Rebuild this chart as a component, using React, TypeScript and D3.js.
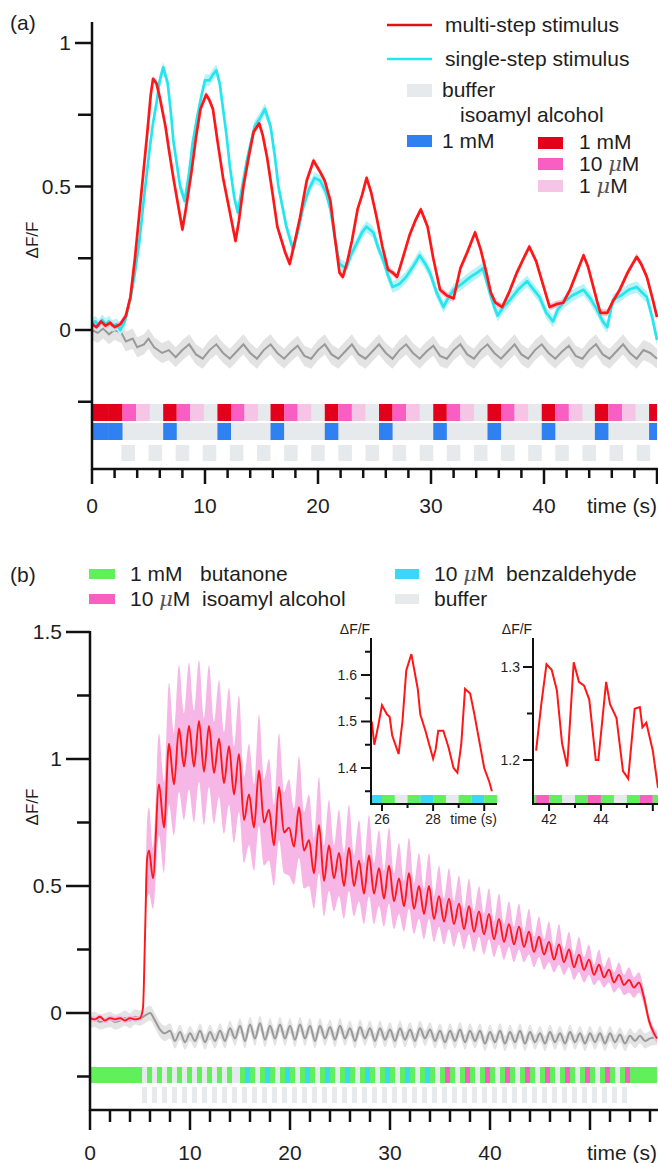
import React from "react";
import * as d3 from "d3";

const FONT = "'Liberation Sans', Arial, Helvetica, sans-serif";

// ---------- panel (a) : isoamyl alcohol, multi-step vs single-step ----------
// [time (s), dF/F]
const multiStepA: [number, number][] = [
  [0, 0.02], [0.4, 0.01], [0.8, 0.03], [1.2, 0.015], [1.6, 0.025], [2.0, 0.01], [2.5, 0.02], [3.0, 0.05],
  [3.4, 0.115], [3.8, 0.25], [4.2, 0.41], [4.6, 0.57], [4.9, 0.69], [5.2, 0.82], [5.4, 0.875], [5.7, 0.86],
  [6.0, 0.81], [6.5, 0.71], [6.8, 0.63], [7.2, 0.53], [7.6, 0.44], [8.0, 0.35], [8.3, 0.42], [8.8, 0.55],
  [9.2, 0.67], [9.6, 0.77], [10.1, 0.82], [10.4, 0.8], [10.7, 0.77], [11.1, 0.66], [11.6, 0.53], [12.2, 0.41],
  [12.7, 0.31], [13.0, 0.38], [13.4, 0.5], [13.9, 0.61], [14.3, 0.69], [14.8, 0.72], [15.1, 0.68], [15.5, 0.6],
  [16.0, 0.47], [16.4, 0.36], [17.1, 0.27], [17.5, 0.23], [17.9, 0.3], [18.4, 0.39], [19.0, 0.52], [19.6, 0.59],
  [20.2, 0.55], [20.6, 0.52], [21.1, 0.45], [21.5, 0.32], [21.9, 0.2], [22.2, 0.185], [22.6, 0.24], [23.0, 0.31],
  [23.5, 0.42], [23.9, 0.47], [24.3, 0.53], [24.7, 0.48], [25.2, 0.39], [25.7, 0.29], [26.2, 0.21], [26.6, 0.2],
  [27.0, 0.185], [27.5, 0.25], [28.1, 0.33], [28.6, 0.38], [29.1, 0.42], [29.7, 0.36], [30.2, 0.25], [30.8, 0.14],
  [31.4, 0.12], [32.0, 0.11], [32.6, 0.215], [33.2, 0.27], [33.9, 0.34], [34.4, 0.28], [34.9, 0.2], [35.3, 0.13],
  [35.7, 0.095], [36.3, 0.08], [36.9, 0.13], [37.6, 0.2], [38.2, 0.25], [38.7, 0.29], [39.3, 0.24], [39.9, 0.16],
  [40.5, 0.08], [41.1, 0.09], [41.7, 0.095], [42.3, 0.14], [42.9, 0.2], [43.5, 0.26], [43.9, 0.22], [44.3, 0.16],
  [44.7, 0.1], [45.0, 0.06], [45.6, 0.06], [46.1, 0.1], [46.7, 0.14], [47.4, 0.2], [48.2, 0.255], [48.6, 0.23],
  [49.1, 0.185], [49.6, 0.11], [50.0, 0.045],
];
const singleStepA: [number, number][] = [
  [0, 0.02], [0.3, 0.03], [0.6, 0.015], [0.9, 0.035], [1.2, 0.02], [1.5, 0.03], [1.8, 0.015], [2.2, 0.02],
  [2.5, 0.0], [2.9, 0.03], [3.4, 0.11], [3.8, 0.2], [4.2, 0.31], [4.6, 0.46], [5.1, 0.63], [5.4, 0.72],
  [5.7, 0.79], [6.0, 0.87], [6.3, 0.915], [6.7, 0.86], [7.0, 0.75], [7.2, 0.66], [7.5, 0.58], [7.8, 0.5],
  [8.2, 0.45], [8.6, 0.55], [8.9, 0.65], [9.3, 0.74], [9.6, 0.8], [10.0, 0.87], [10.4, 0.87], [10.7, 0.89],
  [11.0, 0.905], [11.3, 0.86], [11.5, 0.8], [11.9, 0.68], [12.2, 0.57], [12.6, 0.46], [12.9, 0.41], [13.3, 0.5],
  [13.7, 0.59], [14.1, 0.66], [14.4, 0.71], [14.9, 0.74], [15.3, 0.77], [15.8, 0.71], [16.2, 0.6], [16.5, 0.5],
  [16.9, 0.42], [17.2, 0.36], [17.8, 0.28], [18.2, 0.34], [18.7, 0.43], [19.2, 0.49], [19.7, 0.53], [20.2, 0.52],
  [20.7, 0.48], [21.1, 0.42], [21.5, 0.32], [21.9, 0.23], [22.5, 0.215], [22.9, 0.26], [23.4, 0.3], [23.9, 0.34],
  [24.3, 0.36], [24.9, 0.34], [25.3, 0.29], [25.8, 0.24], [26.2, 0.19], [26.6, 0.15], [27.2, 0.16], [27.8, 0.185],
  [28.4, 0.22], [29.0, 0.26], [29.5, 0.23], [29.9, 0.2], [30.5, 0.13], [31.1, 0.08], [31.5, 0.11], [32.0, 0.14],
  [32.7, 0.16], [33.5, 0.185], [34.1, 0.2], [34.6, 0.215], [35.2, 0.13], [35.6, 0.08], [35.9, 0.05], [36.4, 0.08],
  [37.0, 0.105], [37.7, 0.14], [38.5, 0.17], [39.1, 0.14], [39.6, 0.115], [40.2, 0.06], [40.8, 0.03], [41.2, 0.07],
  [41.7, 0.095], [42.5, 0.12], [43.5, 0.14], [44.1, 0.11], [44.7, 0.07], [45.2, 0.03], [45.6, 0.01], [46.1, 0.105],
  [46.8, 0.12], [47.5, 0.14], [48.2, 0.15], [48.7, 0.13], [49.1, 0.115], [49.6, 0.04], [50.0, -0.035],
];
const bufferA: [number, number][] = [
  [0, 0.0], [0.5, -0.01], [1.0, 0.005], [1.5, -0.015], [2.0, 0.0], [2.6, -0.01], [3.0, -0.04], [3.6, -0.03],
  [4.0, -0.06], [4.6, -0.05], [5.0, -0.03], [5.5, -0.06], [6.2, -0.08], [6.8, -0.07], [7.4, -0.095], [8.0, -0.07],
  [8.6, -0.05], [9.2, -0.085], [9.8, -0.1], [10.4, -0.07], [11.0, -0.05], [11.6, -0.08], [12.2, -0.1], [12.8, -0.075],
  [13.4, -0.05], [14.0, -0.08], [14.6, -0.1], [15.2, -0.07], [15.8, -0.05], [16.4, -0.08], [17.0, -0.1], [17.6, -0.075],
  [18.2, -0.055], [18.8, -0.09], [19.4, -0.1], [20.0, -0.07], [20.6, -0.05], [21.2, -0.085], [21.8, -0.1], [22.4, -0.075],
  [23.0, -0.05], [23.6, -0.085], [24.2, -0.1], [24.8, -0.075], [25.4, -0.05], [26.0, -0.08], [26.6, -0.1], [27.2, -0.07],
  [27.8, -0.05], [28.4, -0.08], [29.0, -0.1], [29.6, -0.075], [30.2, -0.055], [30.8, -0.09], [31.4, -0.1], [32.0, -0.07],
  [32.6, -0.05], [33.2, -0.085], [33.8, -0.1], [34.4, -0.07], [35.0, -0.05], [35.6, -0.08], [36.2, -0.1], [36.8, -0.075],
  [37.4, -0.05], [38.0, -0.085], [38.6, -0.1], [39.2, -0.07], [39.8, -0.05], [40.4, -0.08], [41.0, -0.1], [41.6, -0.075],
  [42.2, -0.055], [42.8, -0.09], [43.4, -0.1], [44.0, -0.07], [44.6, -0.05], [45.2, -0.085], [45.8, -0.1], [46.4, -0.075],
  [47.0, -0.05], [47.6, -0.08], [48.2, -0.1], [48.8, -0.07], [49.4, -0.08], [50.0, -0.1],
];
const semMultiA = 0.012;
const semSingleA = 0.02;
const semBufferA = 0.035;

// stimulus timing (s): onset of each 1 mM -> 10 uM -> 1 uM -> buffer cycle
const cycleOnsetsA = [1.5, 6.3, 11.1, 15.8, 20.6, 25.4, 30.2, 35.0, 39.8, 44.5, 49.3];
const stepDurA = 1.2;
const bufferPulsesA = [2.6, 5.0, 7.4, 9.8, 12.2, 14.6, 17.0, 19.4, 21.8, 24.2, 26.6, 29.0, 31.4, 33.8, 36.2, 38.6, 41.0, 43.4, 45.8, 48.2];
const bufferDurA = 1.2;

const xLabelsA = [0, 10, 20, 30, 40];
const yMajorA = [0, 0.5, 1];
const yMinorA = [-0.25, 0.25, 0.75];

// ---------- panel (b) : butanone background + pulses ----------
// [time (s), mean dF/F, sem]
const redB: [number, number, number][] = [
  [0, -0.02, 0.01], [0.5, -0.025, 0.01], [1, -0.015, 0.01], [1.5, -0.03, 0.01], [2, -0.02, 0.01], [2.5, -0.025, 0.01],
  [3, -0.02, 0.01], [3.5, -0.03, 0.01], [4, -0.02, 0.01], [4.5, -0.025, 0.01], [5, -0.02, 0.01], [5.3, 0.02, 0.02],
  [5.5, 0.3, 0.08], [5.7, 0.6, 0.15], [5.9, 0.64, 0.17], [6.3, 0.53, 0.12], [6.9, 0.9, 0.2], [7.4, 0.73, 0.18],
  [7.9, 1.06, 0.24], [8.4, 0.9, 0.2], [8.9, 1.12, 0.25], [9.4, 0.97, 0.21], [9.9, 1.13, 0.25], [10.4, 0.97, 0.22],
  [10.9, 1.15, 0.24], [11.4, 0.95, 0.21], [11.9, 1.13, 0.24], [12.4, 0.945, 0.2], [12.9, 1.08, 0.23], [13.4, 0.905, 0.2],
  [13.9, 1.05, 0.23], [14.4, 0.86, 0.19], [14.9, 1.02, 0.23], [15.4, 0.76, 0.17], [15.9, 0.86, 0.2], [16.4, 0.73, 0.17],
  [16.9, 0.955, 0.22], [17.4, 0.75, 0.17], [17.9, 0.8, 0.2], [18.4, 0.66, 0.16], [18.9, 0.89, 0.21], [19.4, 0.71, 0.16],
  [19.9, 0.73, 0.19], [20.4, 0.655, 0.15], [20.9, 0.81, 0.2], [21.4, 0.64, 0.15], [21.9, 0.68, 0.18], [22.4, 0.55, 0.14],
  [22.9, 0.74, 0.19], [23.4, 0.52, 0.14], [23.9, 0.66, 0.18], [24.4, 0.53, 0.13], [24.9, 0.63, 0.17], [25.4, 0.5, 0.13],
  [25.9, 0.65, 0.17], [26.4, 0.5, 0.12], [26.9, 0.6, 0.16], [27.4, 0.47, 0.12], [27.9, 0.62, 0.16], [28.4, 0.47, 0.12],
  [28.9, 0.57, 0.15], [29.4, 0.45, 0.11], [29.9, 0.58, 0.15], [30.4, 0.44, 0.11], [30.9, 0.53, 0.14], [31.4, 0.42, 0.1],
  [31.9, 0.55, 0.14], [32.4, 0.41, 0.1], [32.9, 0.5, 0.13], [33.4, 0.39, 0.1], [33.9, 0.5, 0.13], [34.4, 0.37, 0.09],
  [34.9, 0.46, 0.12], [35.4, 0.36, 0.09], [35.9, 0.45, 0.12], [36.4, 0.35, 0.09], [36.9, 0.43, 0.11], [37.4, 0.33, 0.08],
  [37.9, 0.42, 0.11], [38.4, 0.32, 0.08], [38.9, 0.4, 0.1], [39.4, 0.31, 0.08], [39.9, 0.39, 0.1], [40.4, 0.29, 0.07],
  [40.9, 0.37, 0.1], [41.4, 0.28, 0.07], [41.9, 0.35, 0.09], [42.4, 0.27, 0.07], [42.9, 0.34, 0.09], [43.4, 0.26, 0.06],
  [43.9, 0.32, 0.09], [44.4, 0.24, 0.06], [44.9, 0.3, 0.08], [45.4, 0.23, 0.06], [45.9, 0.28, 0.08], [46.4, 0.21, 0.05],
  [46.9, 0.27, 0.08], [47.4, 0.2, 0.05], [47.9, 0.25, 0.07], [48.4, 0.18, 0.05], [48.9, 0.23, 0.07], [49.4, 0.17, 0.05],
  [49.9, 0.21, 0.06], [50.4, 0.15, 0.04], [50.9, 0.19, 0.06], [51.4, 0.14, 0.04], [51.9, 0.17, 0.05], [52.4, 0.12, 0.04],
  [52.9, 0.15, 0.05], [53.4, 0.11, 0.04], [53.9, 0.13, 0.05], [54.4, 0.1, 0.04], [54.9, 0.12, 0.04], [55.4, 0.06, 0.03],
  [55.9, -0.03, 0.02], [56.4, -0.08, 0.02], [56.7, -0.1, 0.02],
];
const bufferB: [number, number][] = [
  [0, -0.03], [0.5, -0.025], [1, -0.035], [1.5, -0.03], [2, -0.025], [2.5, -0.035], [3, -0.03], [3.5, -0.02],
  [4, -0.03], [4.5, -0.015], [5, -0.02], [5.5, -0.01], [6, 0.0], [6.5, -0.03], [7, -0.065], [7.5, -0.08],
  [8, -0.07], [8.5, -0.11], [9, -0.075], [9.5, -0.115], [10, -0.08], [10.5, -0.11], [11, -0.07], [11.5, -0.115],
  [12, -0.075], [12.5, -0.11], [13, -0.07], [13.5, -0.11], [14, -0.06], [14.5, -0.1], [15, -0.05], [15.5, -0.11],
  [16, -0.045], [16.5, -0.1], [17, -0.04], [17.5, -0.105], [18, -0.05], [18.5, -0.1], [19, -0.045], [19.5, -0.1],
  [20, -0.05], [20.5, -0.105], [21, -0.045], [21.5, -0.1], [22, -0.05], [22.5, -0.11], [23, -0.05], [23.5, -0.1],
  [24, -0.055], [24.5, -0.105], [25, -0.05], [25.5, -0.1], [26, -0.06], [26.5, -0.11], [27, -0.055], [27.5, -0.1],
  [28, -0.06], [28.5, -0.11], [29, -0.06], [29.5, -0.105], [30, -0.065], [30.5, -0.11], [31, -0.06], [31.5, -0.105],
  [32, -0.065], [32.5, -0.11], [33, -0.06], [33.5, -0.1], [34, -0.065], [34.5, -0.11], [35, -0.07], [35.5, -0.115],
  [36, -0.07], [36.5, -0.11], [37, -0.065], [37.5, -0.115], [38, -0.07], [38.5, -0.11], [39, -0.07], [39.5, -0.12],
  [40, -0.075], [40.5, -0.115], [41, -0.07], [41.5, -0.12], [42, -0.075], [42.5, -0.115], [43, -0.07], [43.5, -0.12],
  [44, -0.075], [44.5, -0.115], [45, -0.08], [45.5, -0.12], [46, -0.075], [46.5, -0.115], [47, -0.08], [47.5, -0.12],
  [48, -0.075], [48.5, -0.115], [49, -0.08], [49.5, -0.12], [50, -0.08], [50.5, -0.115], [51, -0.08], [51.5, -0.12],
  [52, -0.08], [52.5, -0.115], [53, -0.085], [53.5, -0.12], [54, -0.09], [54.5, -0.11], [55, -0.09], [55.5, -0.11],
  [56, -0.1], [56.7, -0.095],
];
const semBufferB = 0.03;

// stimulus timing (s)
const butanoneOnlyB: [number, number] = [0, 5.2];
const butanonePulsesB = [5.7, 6.7, 7.7, 8.7, 9.7, 10.7, 11.7, 12.7, 13.7];
const benzCyclesB = [15, 17, 19, 21, 23, 25, 27, 29, 31, 33];
const isoCyclesB = [35, 37, 39, 41, 43, 45, 47, 49, 51, 53];
const pulseDurB = 0.5;
const bufferPulsesB = [
  5.2, 6.2, 7.2, 8.2, 9.2, 10.2, 11.2, 12.2, 13.2, 14.2, 15.2, 16.2, 17.2, 18.2, 19.2, 20.2, 21.2,
  22.2, 23.2, 24.2, 25.2, 26.2, 27.2, 28.2, 29.2, 30.2, 31.2, 32.2, 33.2, 34.2, 35.2, 36.2, 37.2, 38.2,
  39.2, 40.2, 41.2, 42.2, 43.2, 44.2, 45.2, 46.2, 47.2, 48.2, 49.2, 50.2, 51.2, 52.2, 53.2,
];

const xLabelsB = [0, 10, 20, 30, 40];
const yMajorB = [0, 0.5, 1, 1.5];
const yMinorB = [-0.25, 0.25, 0.75, 1.25];

// insets (single traces)
const inset1: [number, number][] = [
  [25.6, 1.5], [25.7, 1.45], [25.85, 1.49], [26.0, 1.535], [26.2, 1.515], [26.3, 1.51], [26.4, 1.47], [26.65, 1.43],
  [26.8, 1.5], [26.95, 1.61], [27.15, 1.645], [27.3, 1.6], [27.4, 1.57], [27.5, 1.515], [27.7, 1.48], [27.85, 1.45],
  [28.0, 1.42], [28.1, 1.44], [28.2, 1.48], [28.4, 1.48], [28.6, 1.445], [28.8, 1.4], [28.95, 1.39], [29.1, 1.45],
  [29.25, 1.57], [29.45, 1.56], [29.6, 1.52], [29.75, 1.475], [30.0, 1.4], [30.2, 1.37], [30.3, 1.35],
];
const inset2: [number, number][] = [
  [41.5, 1.21], [41.7, 1.26], [41.9, 1.303], [42.1, 1.297], [42.3, 1.275], [42.5, 1.218], [42.7, 1.193], [42.95, 1.305],
  [43.15, 1.284], [43.35, 1.28], [43.55, 1.265], [43.8, 1.2], [43.9, 1.2], [44.2, 1.284], [44.35, 1.26], [44.6, 1.245],
  [44.85, 1.188], [45.05, 1.18], [45.3, 1.255], [45.5, 1.257], [45.6, 1.235], [45.75, 1.24], [46.0, 1.21], [46.2, 1.17],
];

const C = {
  red: "#ff1616",
  cyan: "#25e6ef",
  grey: "#999999",
  red1mM: "#e2001b",
  pink10: "#f95fc2",
  pink1: "#f6c5e6",
  blue: "#2f80f0",
  buffer: "#e7eaec",
  green: "#5ff05c",
  benz: "#3ad8f6",
  band: "#f7b7e6",
  text: "#1e1e1e",
};

type Seg = { t0: number; t1: number; color: string };

function SegRow({ segs, x, y, h, tMin, tMax }: { segs: Seg[]; x: d3.ScaleLinear<number, number>; y: number; h: number; tMin: number; tMax: number }) {
  return (
    <g>
      {segs.map((s, i) => {
        const a = Math.max(s.t0, tMin);
        const b = Math.min(s.t1, tMax);
        if (b <= a) return null;
        return <rect key={i} x={x(a)} y={y} width={x(b) - x(a)} height={h} fill={s.color} />;
      })}
    </g>
  );
}

function Mu() {
  return <tspan fontStyle="italic" fontFamily="'DejaVu Serif', serif" fill="#555">μ</tspan>;
}

export default function App() {
  const xA = d3.scaleLinear().domain([0, 50]).range([92, 657]);
  const yA = d3.scaleLinear().domain([0, 1]).range([330, 43]);
  const xB = d3.scaleLinear().domain([0, 56.7]).range([90, 657]);
  const yB = d3.scaleLinear().domain([0, 1.5]).range([1013, 632]);
  const xI1 = d3.scaleLinear().domain([25.57, 30.5]).range([371, 497]);
  const yI1 = d3.scaleLinear().domain([1.4, 1.6]).range([768, 675]);
  const xI2 = d3.scaleLinear().domain([41.38, 46.2]).range([533, 658]);
  const yI2 = d3.scaleLinear().domain([1.2, 1.3]).range([760, 667]);

  const lineA = d3.line<[number, number]>().x((d) => xA(d[0])).y((d) => yA(d[1]));
  const bandA = (sem: number) =>
    d3.area<[number, number]>().x((d) => xA(d[0])).y0((d) => yA(d[1] - sem)).y1((d) => yA(d[1] + sem));

  const lineB = d3.line<[number, number, number]>().x((d) => xB(d[0])).y((d) => yB(d[1])).curve(d3.curveMonotoneX);
  const bandB = d3
    .area<[number, number, number]>()
    .x((d) => xB(d[0]))
    .y0((d) => yB(d[1] - d[2]))
    .y1((d) => yB(d[1] + d[2]))
    .curve(d3.curveMonotoneX);
  const lineBufB = d3.line<[number, number]>().x((d) => xB(d[0])).y((d) => yB(d[1])).curve(d3.curveMonotoneX);
  const bandBufB = d3
    .area<[number, number]>()
    .x((d) => xB(d[0]))
    .y0((d) => yB(d[1] - semBufferB))
    .y1((d) => yB(d[1] + semBufferB))
    .curve(d3.curveMonotoneX);

  // stimulus rows (a)
  const rowA1: Seg[] = [{ t0: 0, t1: 50, color: C.buffer }, { t0: 0, t1: cycleOnsetsA[0], color: C.red1mM }];
  const rowA2: Seg[] = [{ t0: 0, t1: 50, color: C.buffer }, { t0: 0, t1: cycleOnsetsA[0], color: C.blue }];
  cycleOnsetsA.forEach((t) => {
    rowA1.push({ t0: t, t1: t + stepDurA, color: C.red1mM });
    rowA1.push({ t0: t + stepDurA, t1: t + 2 * stepDurA, color: C.pink10 });
    rowA1.push({ t0: t + 2 * stepDurA, t1: t + 3 * stepDurA, color: C.pink1 });
    rowA2.push({ t0: t, t1: t + stepDurA, color: C.blue });
  });
  const rowA3: Seg[] = bufferPulsesA.map((t) => ({ t0: t, t1: t + bufferDurA, color: C.buffer }));

  // stimulus rows (b)
  const rowB1: Seg[] = [
    { t0: butanoneOnlyB[1], t1: 54, color: C.buffer },
    { t0: butanoneOnlyB[0], t1: butanoneOnlyB[1], color: C.green },
  ];
  butanonePulsesB.forEach((t) => rowB1.push({ t0: t, t1: t + pulseDurB, color: C.green }));
  const addCycle = (t: number, odor: string) => {
    rowB1.push({ t0: t, t1: t + pulseDurB, color: C.green });
    rowB1.push({ t0: t + pulseDurB, t1: t + 2 * pulseDurB, color: odor });
    rowB1.push({ t0: t + 2 * pulseDurB, t1: t + 3 * pulseDurB, color: C.green });
  };
  benzCyclesB.forEach((t) => addCycle(t, C.benz));
  isoCyclesB.forEach((t) => addCycle(t, C.pink10));
  rowB1.push({ t0: isoCyclesB[isoCyclesB.length - 1] + 2 * pulseDurB, t1: 56.7, color: C.green });
  const rowB2: Seg[] = bufferPulsesB.map((t) => ({ t0: t, t1: t + pulseDurB, color: C.buffer }));

  const insetLine = (x: d3.ScaleLinear<number, number>, y: d3.ScaleLinear<number, number>) =>
    d3.line<[number, number]>().x((d) => x(d[0])).y((d) => y(d[1]));

  const txt = { fontFamily: FONT, fill: C.text } as const;
  const pre = { whiteSpace: "pre" } as const;
  const ax = { stroke: "#111", strokeWidth: 2.5 } as const;
  const FS = 21;

  return (
    <svg width={658} height={1163} style={{ position: "absolute", left: 0, top: 0, background: "#fff" }}>
      <defs>
        <clipPath id="clipA">
          <rect x={93} y={0} width={565} height={400} />
        </clipPath>
        <clipPath id="clipI1">
          <rect x={372} y={630} width={126} height={172} />
        </clipPath>
        <clipPath id="clipI2">
          <rect x={534} y={630} width={124} height={172} />
        </clipPath>
      </defs>

      {/* ================= panel (a) ================= */}
      <text x={10} y={30} fontSize={FS} {...txt}>(a)</text>

      <g clipPath="url(#clipA)">
        <path d={bandA(semBufferA)(bufferA) ?? ""} fill="#e3e3e3" />
        <path d={lineA(bufferA) ?? ""} fill="none" stroke={C.grey} strokeWidth={2} />
        <path d={bandA(semSingleA)(singleStepA) ?? ""} fill="#b5f3f7" />
        <path d={bandA(semMultiA)(multiStepA) ?? ""} fill="#f8c3d9" />
        <path d={lineA(singleStepA) ?? ""} fill="none" stroke={C.cyan} strokeWidth={2.7} strokeLinejoin="round" />
        <path d={lineA(multiStepA) ?? ""} fill="none" stroke={C.red} strokeWidth={2.7} strokeLinejoin="round" />
      </g>

      <SegRow segs={rowA1} x={xA} y={404} h={17} tMin={0} tMax={50} />
      <SegRow segs={rowA2} x={xA} y={423} h={17} tMin={0} tMax={50} />
      <SegRow segs={rowA3} x={xA} y={445} h={16} tMin={0} tMax={50} />

      {/* axes (a) */}
      <line x1={xA(0)} x2={xA(0)} y1={22} y2={470} {...ax} />
      <line x1={xA(0) - 1} x2={658} y1={469} y2={469} {...ax} />
      {yMajorA.map((v) => (
        <g key={v}>
          <line x1={75} x2={92} y1={yA(v)} y2={yA(v)} {...ax} />
          <text x={71} y={yA(v)} dy="0.35em" textAnchor="end" fontSize={FS} {...txt}>{v}</text>
        </g>
      ))}
      {yMinorA.map((v) => (
        <line key={v} x1={78} x2={92} y1={yA(v)} y2={yA(v)} {...ax} />
      ))}
      {d3.range(0, 51, 2).map((t) => (
        <line key={t} x1={xA(t)} x2={xA(t)} y1={469} y2={t % 10 === 0 ? 484 : 478} {...ax} />
      ))}
      {xLabelsA.map((t) => (
        <text key={t} x={xA(t)} y={513} textAnchor="middle" fontSize={FS} {...txt}>{t}</text>
      ))}
      <text x={657} y={513} textAnchor="end" fontSize={FS} {...txt}>time (s)</text>
      <text transform="translate(38,240) rotate(-90)" textAnchor="middle" fontSize={17} {...txt}>ΔF/F</text>

      {/* legend (a) */}
      <line x1={387} x2={432} y1={25} y2={25} stroke="#e0101c" strokeWidth={2.5} />
      <text x={445} y={25} dy="0.35em" fontSize={FS} {...txt}>multi-step stimulus</text>
      <line x1={387} x2={432} y1={59} y2={59} stroke={C.cyan} strokeWidth={2.5} />
      <text x={445} y={59} dy="0.35em" fontSize={FS} {...txt}>single-step stimulus</text>
      <rect x={407} y={84} width={25} height={13} fill={C.buffer} />
      <text x={442} y={90} dy="0.35em" fontSize={FS} {...txt}>buffer</text>
      <text x={460} y={115} dy="0.35em" fontSize={FS} {...txt}>isoamyl alcohol</text>
      <rect x={407} y={135} width={25} height={12} fill={C.blue} />
      <text x={442} y={141} dy="0.35em" fontSize={FS} {...txt}>1 mM</text>
      <rect x={538} y={137} width={25} height={12} fill={C.red1mM} />
      <text x={579} y={142} dy="0.35em" fontSize={FS} {...txt}>1 mM</text>
      <rect x={538} y={158} width={25} height={12} fill={C.pink10} />
      <text x={579} y={164} dy="0.35em" fontSize={FS} {...txt}>10 <Mu />M</text>
      <rect x={538} y={180} width={25} height={12} fill={C.pink1} />
      <text x={579} y={186} dy="0.35em" fontSize={FS} {...txt}>1 <Mu />M</text>

      {/* ================= panel (b) ================= */}
      <text x={10} y={582} fontSize={FS} {...txt}>(b)</text>

      <rect x={89} y={569} width={26} height={10} fill={C.green} />
      <text x={130} y={574} dy="0.35em" fontSize={FS} {...txt} style={pre}>{"1 mM   butanone"}</text>
      <rect x={89} y={594} width={26} height={10} fill={C.pink10} />
      <text x={130} y={599} dy="0.35em" fontSize={FS} {...txt} style={pre}>10 <Mu />{"M  isoamyl alcohol"}</text>
      <rect x={395} y={569} width={24} height={10} fill={C.benz} />
      <text x={434} y={574} dy="0.35em" fontSize={FS} {...txt} style={pre}>10 <Mu />{"M  benzaldehyde"}</text>
      <rect x={395} y={594} width={24} height={10} fill={C.buffer} />
      <text x={434} y={599} dy="0.35em" fontSize={FS} {...txt}>buffer</text>

      <path d={bandBufB(bufferB) ?? ""} fill="#e4e4e4" />
      <path d={lineBufB(bufferB) ?? ""} fill="none" stroke={C.grey} strokeWidth={2} />
      <path d={bandB(redB) ?? ""} fill={C.band} />
      <path d={lineB(redB) ?? ""} fill="none" stroke={C.red} strokeWidth={1.9} />

      <SegRow segs={rowB1} x={xB} y={1067} h={16} tMin={0} tMax={56.7} />
      <SegRow segs={rowB2} x={xB} y={1087} h={16} tMin={0} tMax={56.7} />

      {/* axes (b) */}
      <line x1={xB(0)} x2={xB(0)} y1={631} y2={1111} {...ax} />
      <line x1={xB(0) - 1} x2={658} y1={1110} y2={1110} {...ax} />
      {yMajorB.map((v) => (
        <g key={v}>
          <line x1={66} x2={90} y1={yB(v)} y2={yB(v)} {...ax} />
          <text x={62} y={yB(v)} dy="0.35em" textAnchor="end" fontSize={FS} {...txt}>{v}</text>
        </g>
      ))}
      {yMinorB.map((v) => (
        <line key={v} x1={77} x2={90} y1={yB(v)} y2={yB(v)} {...ax} />
      ))}
      {d3.range(0, 57, 2).map((t) => (
        <line key={t} x1={xB(t)} x2={xB(t)} y1={1110} y2={t % 10 === 0 ? 1130 : 1122} {...ax} />
      ))}
      {xLabelsB.map((t) => (
        <text key={t} x={xB(t)} y={1160} textAnchor="middle" fontSize={FS} {...txt}>{t}</text>
      ))}
      <text x={657} y={1160} textAnchor="end" fontSize={FS} {...txt}>time (s)</text>
      <text transform="translate(38,807) rotate(-90)" textAnchor="middle" fontSize={17} {...txt}>ΔF/F</text>

      {/* inset 1 */}
      <text x={355} y={634} textAnchor="middle" fontSize={14} {...txt}>ΔF/F</text>
      <g clipPath="url(#clipI1)">
        <path d={insetLine(xI1, yI1)(inset1) ?? ""} fill="none" stroke={C.red} strokeWidth={2} />
      </g>
      <SegRow segs={rowB1} x={xI1} y={795} h={8} tMin={25.57} tMax={30.5} />
      <line x1={371} x2={371} y1={638} y2={805} stroke="#111" strokeWidth={2} />
      <line x1={370} x2={497} y1={804} y2={804} stroke="#111" strokeWidth={2} />
      {[1.4, 1.5, 1.6].map((v) => (
        <g key={v}>
          <line x1={361} x2={371} y1={yI1(v)} y2={yI1(v)} stroke="#111" strokeWidth={2} />
          <text x={357} y={yI1(v)} dy="0.35em" textAnchor="end" fontSize={14} {...txt}>{v.toFixed(1)}</text>
        </g>
      ))}
      {[1.35, 1.45, 1.55, 1.65].map((v) => (
        <line key={v} x1={365} x2={371} y1={yI1(v)} y2={yI1(v)} stroke="#111" strokeWidth={2} />
      ))}
      {[26, 27, 28, 29, 30].map((t) => (
        <line key={t} x1={xI1(t)} x2={xI1(t)} y1={804} y2={t % 2 === 0 ? 811 : 808} stroke="#111" strokeWidth={2} />
      ))}
      {[26, 28].map((t) => (
        <text key={t} x={xI1(t)} y={824} textAnchor="middle" fontSize={14} {...txt}>{t}</text>
      ))}
      <text x={497} y={824} textAnchor="end" fontSize={14} {...txt}>time (s)</text>

      {/* inset 2 */}
      <text x={517} y={634} textAnchor="middle" fontSize={14} {...txt}>ΔF/F</text>
      <g clipPath="url(#clipI2)">
        <path d={insetLine(xI2, yI2)(inset2) ?? ""} fill="none" stroke={C.red} strokeWidth={2} />
      </g>
      <SegRow segs={rowB1} x={xI2} y={795} h={8} tMin={41.38} tMax={46.2} />
      <line x1={533} x2={533} y1={638} y2={805} stroke="#111" strokeWidth={2} />
      <line x1={532} x2={658} y1={804} y2={804} stroke="#111" strokeWidth={2} />
      {[1.2, 1.3].map((v) => (
        <g key={v}>
          <line x1={523} x2={533} y1={yI2(v)} y2={yI2(v)} stroke="#111" strokeWidth={2} />
          <text x={520} y={yI2(v)} dy="0.35em" textAnchor="end" fontSize={14} {...txt}>{v.toFixed(1)}</text>
        </g>
      ))}
      {[1.25].map((v) => (
        <line key={v} x1={527} x2={533} y1={yI2(v)} y2={yI2(v)} stroke="#111" strokeWidth={2} />
      ))}
      {[42, 43, 44, 45, 46].map((t) => (
        <line key={t} x1={xI2(t)} x2={xI2(t)} y1={804} y2={t % 2 === 0 ? 811 : 808} stroke="#111" strokeWidth={2} />
      ))}
      {[42, 44].map((t) => (
        <text key={t} x={xI2(t)} y={824} textAnchor="middle" fontSize={14} {...txt}>{t}</text>
      ))}
    </svg>
  );
}
